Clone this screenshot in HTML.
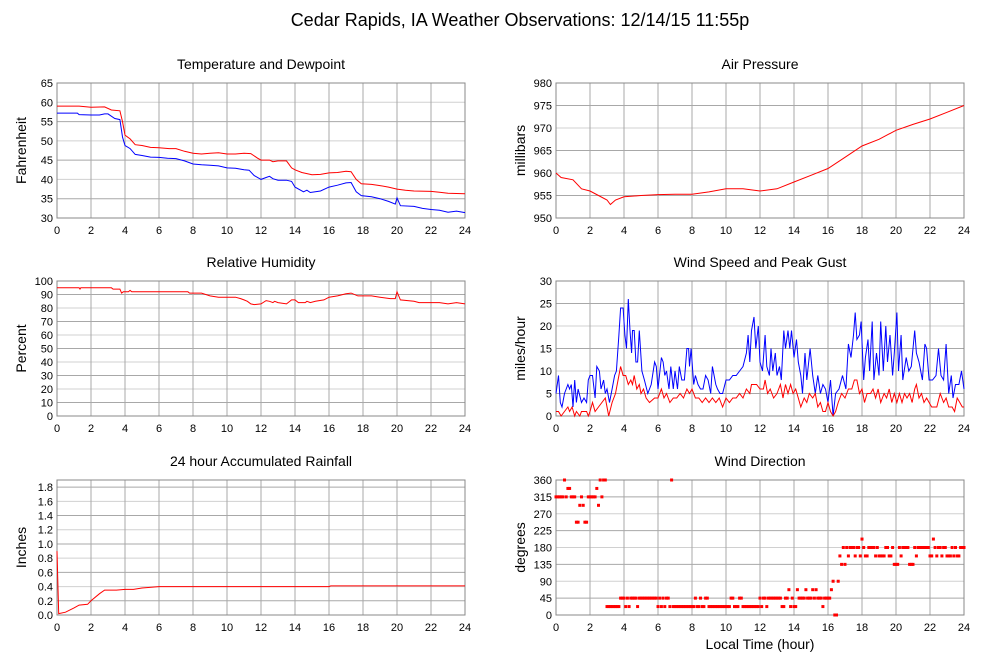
<!DOCTYPE html>
<html><head><meta charset="utf-8"><style>
body{margin:0;background:#fff;}
svg{display:block;font-family:"Liberation Sans",sans-serif;}
</style></head><body>
<svg id="c" width="999" height="659">
<text x="520" y="26" font-size="18" text-anchor="middle">Cedar Rapids, IA Weather Observations: 12/14/15 11:55p</text>
<text x="760" y="649" font-size="14" text-anchor="middle">Local Time (hour)</text>
</svg>
<script>
const hourTicks=[0,2,4,6,8,10,12,14,16,18,20,22,24];
const tempTicks=[30,35,40,45,50,55,60,65];
const presTicks=[950,955,960,965,970,975,980];
const rhTicks=[0,10,20,30,40,50,60,70,80,90,100];
const windTicks=[0,5,10,15,20,25,30];
const rainTicks=[0.0,0.2,0.4,0.6,0.8,1.0,1.2,1.4,1.6,1.8];
const dirTicks=[0,45,90,135,180,225,270,315,360];
const temperature=[[0,59],[1.3,59],[2,58.7],[2.8,58.8],[3.2,58],[3.7,57.8],[3.85,55],[4,51.5],[4.3,50.5],[4.6,49],[5,48.8],[5.5,48.3],[6,48.2],[6.6,48],[7,48],[7.5,47.3],[8,46.8],[8.5,46.6],[9,46.8],[9.5,46.9],[10,46.6],[10.5,46.6],[11,46.8],[11.4,46.7],[11.8,45.5],[12,45],[12.5,45],[12.7,44.6],[13,44.8],[13.5,44.8],[13.8,43],[14,42.5],[14.4,41.8],[15,41.2],[15.5,41.3],[16,41.7],[16.5,41.8],[17,42.1],[17.3,42],[17.6,40],[17.9,38.9],[18.5,38.7],[19,38.4],[19.5,38],[20,37.5],[20.5,37.2],[21,37],[22,36.9],[22.5,36.7],[23,36.4],[24,36.3]];
const dewpoint=[[0,57.2],[1.2,57.2],[1.3,56.8],[2,56.7],[2.5,56.7],[2.8,57],[3,57],[3.4,55.8],[3.7,55.5],[3.85,51],[4,48.8],[4.3,48],[4.6,46.5],[5,46.2],[5.5,45.8],[6,45.7],[6.5,45.5],[7,45.4],[7.5,44.8],[8,44],[8.5,43.8],[9,43.7],[9.5,43.5],[10,43],[10.5,42.9],[11,42.5],[11.3,42.4],[11.6,41],[12,40],[12.3,40.5],[12.5,40.8],[12.7,40.2],[13,39.8],[13.5,39.8],[13.8,39.5],[14,38],[14.5,36.8],[14.7,37.2],[14.9,36.6],[15.5,37],[16,38],[16.5,38.5],[17,39.1],[17.3,39.2],[17.6,36.8],[17.9,35.8],[18.5,35.5],[19,35],[19.5,34.3],[19.9,33.6],[20,35.2],[20.2,33.2],[21,33],[21.5,32.5],[22,32.2],[22.5,32],[23,31.5],[23.5,31.8],[24,31.4]];
const pressure=[[0,960],[0.3,959],[1,958.5],[1.5,956.5],[2,956],[2.5,955],[3,954],[3.2,953],[3.5,954],[4,954.7],[5,955],[6,955.2],[7,955.3],[8,955.3],[9,955.8],[10,956.5],[11,956.5],[12,956],[13,956.5],[14,958],[15,959.5],[16,961],[17,963.5],[18,966],[19,967.5],[20,969.5],[21,970.8],[22,972],[23,973.5],[24,975]];
const humidity=[[0,95],[1.3,95],[1.35,94],[1.4,95],[3.2,95],[3.3,94],[3.7,94],[3.8,91],[3.9,92],[4.2,92],[4.3,93],[4.4,92],[7.7,92],[7.8,91],[8.5,91],[9,89],[9.5,88],[10.5,88],[10.8,87],[11,86],[11.2,85],[11.4,83],[11.6,82.5],[12,83],[12.3,85.5],[12.5,85],[12.7,84],[12.8,85],[13,84],[13.5,83],[13.8,86],[14,86],[14.2,84],[14.6,84],[14.7,85],[14.9,84],[15.2,85],[15.7,86],[16,88],[16.5,89],[17,90.5],[17.3,91],[17.7,89],[18.5,89],[19,88],[19.6,87],[19.9,87],[20,92],[20.2,86],[21,85],[21.3,84],[22.5,84],[23,83],[23.5,84],[24,83]];
const rainfall=[[0,0.9],[0.1,0.02],[0.5,0.04],[1,0.1],[1.3,0.14],[1.8,0.15],[2,0.2],[2.5,0.3],[2.8,0.35],[3.5,0.35],[4,0.36],[4.5,0.36],[5,0.38],[6,0.4],[16,0.4],[16.1,0.41],[24,0.41]];
const gust=[[0,5],[0.15,9],[0.25,3],[0.35,2],[0.5,5],[0.7,7],[0.8,6],[0.9,7],[1.0,2],[1.1,8],[1.2,3],[1.3,6],[1.5,3],[1.65,4],[1.8,3],[1.9,8],[2.0,9],[2.15,9],[2.3,4],[2.4,11],[2.55,10],[2.65,6],[2.8,8],[2.9,5],[3.0,6],[3.15,3],[3.3,6],[3.45,9],[3.55,10],[3.7,18],[3.8,24],[3.95,24],[4.05,18],[4.15,15],[4.25,26],[4.35,19],[4.45,14],[4.5,19],[4.6,19],[4.7,12],[4.8,12],[4.9,19],[5.05,10],[5.2,8],[5.4,5],[5.6,7],[5.8,12],[5.9,11],[6.0,6],[6.2,13],[6.3,12],[6.4,9],[6.5,10],[6.65,6],[6.75,11],[6.9,6],[7.0,10],[7.15,6],[7.25,11],[7.4,8],[7.55,8],[7.7,15],[7.8,15],[7.85,11],[7.95,15],[8.1,7],[8.2,9],[8.35,7],[8.5,6],[8.65,6],[8.8,9],[8.95,8],[9.1,5],[9.2,11],[9.4,7],[9.5,6],[9.65,5],[9.8,5],[10.0,8],[10.2,8],[10.4,9],[10.6,9],[10.8,10],[11.0,11],[11.2,14],[11.3,18],[11.4,12],[11.5,19],[11.65,22],[11.75,15],[11.9,20],[12.0,12],[12.15,10],[12.3,18],[12.4,11],[12.55,9],[12.65,15],[12.75,10],[12.9,14],[13.0,9],[13.15,11],[13.25,8],[13.4,19],[13.5,15],[13.65,19],[13.75,15],[13.85,19],[14.0,13],[14.15,17],[14.25,12],[14.4,9],[14.5,5],[14.65,14],[14.75,8],[14.95,15],[15.1,9],[15.25,5],[15.4,9],[15.55,5],[15.7,7],[15.85,6],[16.0,3],[16.15,8],[16.3,0],[16.45,5],[16.65,6],[16.85,9],[17.05,6],[17.2,16],[17.35,13],[17.5,18],[17.6,23],[17.7,17],[17.85,18],[17.95,21],[18.1,8],[18.2,13],[18.35,17],[18.45,10],[18.6,21],[18.7,8],[18.85,14],[19.0,9],[19.1,21],[19.25,10],[19.4,20],[19.5,12],[19.65,18],[19.8,9],[19.9,14],[20.05,23],[20.15,10],[20.3,18],[20.4,8],[20.6,13],[20.75,10],[20.9,11],[21.1,19],[21.2,14],[21.35,12],[21.55,8],[21.7,16],[21.8,15],[21.95,8],[22.15,8],[22.35,9],[22.5,15],[22.65,9],[22.8,8],[22.95,16],[23.1,5],[23.25,9],[23.35,4],[23.5,7],[23.7,7],[23.85,10],[24,6]];
const speed=[[0,1],[0.15,1],[0.3,0],[0.5,1],[0.7,2],[0.8,1],[0.95,2],[1.1,0],[1.2,1],[1.4,0],[1.5,1],[1.8,1],[1.9,0],[2.0,1],[2.15,3],[2.3,1],[2.5,2],[2.7,3],[2.9,4],[3.1,0],[3.3,3],[3.5,5],[3.7,9],[3.8,11],[3.95,9],[4.1,9],[4.25,7],[4.4,8],[4.5,7],[4.6,9],[4.75,6],[4.9,7],[5.0,5],[5.15,6],[5.3,4],[5.5,3],[5.8,4],[6.0,4],[6.2,6],[6.35,4],[6.5,5],[6.7,3],[6.9,4],[7.1,4],[7.3,5],[7.5,4],[7.7,6],[7.85,5],[8.0,6],[8.2,4],[8.4,4],[8.6,3],[8.8,4],[9.0,3],[9.2,4],[9.4,3],[9.6,4],[9.8,2],[10.0,4],[10.2,3],[10.4,4],[10.6,4],[10.8,5],[11.0,4],[11.2,6],[11.4,5],[11.5,7],[11.8,7],[12.0,6],[12.2,6],[12.3,8],[12.45,5],[12.6,6],[12.8,4],[13.0,5],[13.2,7],[13.35,4],[13.5,7],[13.65,5],[13.8,7],[13.95,5],[14.1,6],[14.25,4],[14.4,2],[14.6,4],[14.75,3],[14.9,5],[15.1,4],[15.25,5],[15.4,2],[15.55,3],[15.7,1],[15.85,1],[16.0,3],[16.15,1],[16.3,0],[16.45,1],[16.6,3],[16.8,5],[17.0,4],[17.2,6],[17.4,6],[17.55,8],[17.7,8],[17.85,5],[18.0,6],[18.15,3],[18.3,5],[18.5,5],[18.65,6],[18.8,4],[18.95,6],[19.1,3],[19.3,5],[19.45,4],[19.6,6],[19.75,3],[19.9,5],[20.05,3],[20.2,5],[20.35,3],[20.5,5],[20.65,4],[20.8,5],[20.95,3],[21.1,6],[21.2,7],[21.35,4],[21.5,5],[21.65,3],[21.8,4],[21.95,3],[22.1,2],[22.4,2],[22.6,5],[22.8,3],[22.95,4],[23.1,2],[23.3,2],[23.45,1],[23.6,4],[23.75,3],[23.9,2],[24,2]];
// wind direction sampled every 0.1 h
const direction=[
315,315,315,315,315,360,315,337.5,337.5,315,
315,315,247.5,247.5,292.5,315,292.5,247.5,247.5,315,
315,315,315,315,337.5,292.5,360,315,360,360,
22.5,22.5,22.5,22.5,22.5,22.5,22.5,22.5,45,45,
45,22.5,45,22.5,45,45,45,45,22.5,45,
45,45,45,45,45,45,45,45,45,45,
22.5,45,22.5,45,22.5,45,45,22.5,360,22.5,
22.5,22.5,22.5,22.5,22.5,22.5,22.5,22.5,22.5,22.5,
22.5,22.5,45,22.5,22.5,45,22.5,22.5,45,45,
22.5,22.5,22.5,22.5,22.5,22.5,22.5,22.5,22.5,22.5,
22.5,22.5,22.5,45,45,22.5,22.5,22.5,45,45,
22.5,22.5,22.5,22.5,22.5,22.5,22.5,22.5,22.5,22.5,
45,22.5,45,45,22.5,45,45,45,45,45,
45,45,45,22.5,22.5,45,45,67.5,22.5,45,
22.5,22.5,67.5,45,45,45,45,67.5,45,45,
45,67.5,45,67.5,45,45,45,22.5,45,45,
45,45,67.5,90,0,0,90,157.5,135,180,
135,180,157.5,180,180,180,157.5,180,180,157.5,
202.5,180,157.5,157.5,180,180,180,180,157.5,180,
157.5,157.5,157.5,157.5,180,180,157.5,157.5,180,135,
135,135,180,157.5,180,180,180,180,135,135,
135,180,157.5,180,180,180,180,180,180,180,
157.5,157.5,202.5,180,157.5,180,180,157.5,180,180,
157.5,157.5,157.5,180,157.5,180,157.5,157.5,180,180,
180];

const NS='http://www.w3.org/2000/svg';
const svg=document.getElementById('c');
function mk(tag,attrs,parent){const e=document.createElementNS(NS,tag);for(const k in attrs)e.setAttribute(k,attrs[k]);(parent||svg).appendChild(e);return e;}

function panel(name,title,ytitle,x0,x1,y0,y1,ymin,ymax,yticks,fmt){
  const g=mk('g',{});
  
  
  const sx=h=>x0+(h/24)*(x1-x0);
  const sy=v=>y1-(v-ymin)/(ymax-ymin)*(y1-y0);
  const t=mk('text',{x:(x0+x1)/2,y:y0-14,'font-size':14,'text-anchor':'middle'},g);
  t.textContent=title;
  
  
  const yt=mk('text',{x:0,y:0,'font-size':14,'text-anchor':'middle',transform:`translate(${x0-31},${(y0+y1)/2}) rotate(-90)`},g);
  yt.textContent=ytitle;
  
  
  yticks.forEach((v,i)=>{
    const y=sy(v);
    if(v>ymin&&v<ymax){const l=mk('line',{x1:x0,x2:x1,y1:y,y2:y,stroke:i%2?'#a8a8a8':'#d0d0d0','stroke-width':1},g);
    
    }
    const tx=mk('text',{x:x0-4,y:y+4,'font-size':11,'text-anchor':'end'},g);
    tx.textContent=fmt?fmt(v):v;
    
    
  });
  hourTicks.forEach(h=>{
    const x=sx(h);
    if(h>0&&h<24){const l=mk('line',{x1:x,x2:x,y1:y0,y2:y1,stroke:'#a8a8a8','stroke-width':1},g);
    
    }
    const tx=mk('text',{x:x,y:y1+16,'font-size':11,'text-anchor':'middle'},g);
    tx.textContent=h;
    
    
  });
  const fr=mk('rect',{x:x0,y:y0,width:x1-x0,height:y1-y0,fill:'none',stroke:'#888','stroke-width':1},g);
  
  
  return {g,sx,sy};
}
function line(p,data,color,name){
  const d=data.map((q,i)=>(i?'L':'M')+p.sx(q[0]).toFixed(1)+' '+p.sy(q[1]).toFixed(1)).join('');
  const e=mk('path',{d:d,fill:'none',stroke:color,'stroke-width':1},p.g);
  
  
}
const L0=57,L1=465,R0=556,R1=964;
const p1=panel('temperature-panel','Temperature and Dewpoint','Fahrenheit',L0,L1,83,218,30,65,tempTicks);
line(p1,temperature,'#ff0000','temperature-line');
line(p1,dewpoint,'#0000ff','dewpoint-line');
const p2=panel('pressure-panel','Air Pressure','millibars',R0,R1,83,218,950,980,presTicks);
line(p2,pressure,'#ff0000','pressure-line');
const p3=panel('humidity-panel','Relative Humidity','Percent',L0,L1,281,416,0,100,rhTicks);
line(p3,humidity,'#ff0000','humidity-line');
const p4=panel('wind-speed-panel','Wind Speed and Peak Gust','miles/hour',R0,R1,281,416,0,30,windTicks);
line(p4,gust,'#0000ff','peak-gust-line');
line(p4,speed,'#ff0000','wind-speed-line');
const p5=panel('rainfall-panel','24 hour Accumulated Rainfall','Inches',L0,L1,480,615,0,1.9,rainTicks,v=>v.toFixed(1));
line(p5,rainfall,'#ff0000','rainfall-line');
const p6=panel('wind-direction-panel','Wind Direction','degrees',R0,R1,480,615,0,360,dirTicks);
direction.forEach((v,i)=>{
  const r=mk('rect',{x:p6.sx(i*0.1)-1.5,y:p6.sy(v)-1.5,width:3,height:3,fill:'#ff0000'},p6.g);
  
  
});
</script>
</body></html>
